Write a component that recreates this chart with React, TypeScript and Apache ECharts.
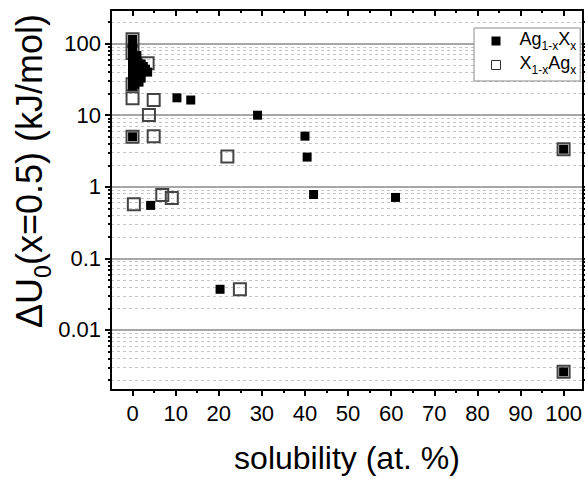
import React, { useEffect, useRef } from 'react';
import * as echarts from 'echarts';

// Ag(1-x)X(x) — filled squares: [solubility (at.%), ΔU0 (kJ/mol)]
const agSeries: [number, number][] = [
  [0, 115], [0, 88], [0, 80], [0, 72], [0, 65], [0, 58], [0, 52], [0, 47], [0, 42], [0, 38],
  [0, 34], [0, 31], [0, 28], [0, 25.5], [0.5, 62], [1, 55], [1.5, 50], [1, 45], [2, 43],
  [3, 44], [3.5, 40], [2.5, 48], [1, 36], [2, 33], [1.5, 29], [0.5, 27], [1, 68], [2, 52],
  [0, 5], [4.2, 0.55], [10.3, 17.5], [13.5, 16.3], [29, 10], [40, 5.1], [40.5, 2.6],
  [42, 0.78], [61, 0.71], [20.3, 0.037], [100, 3.35], [100, 0.0026],
];

// X(1-x)Ag(x) — open squares
const xSeries: [number, number][] = [
  [0, 115], [0, 74], [0, 27], [0, 17.3], [3.8, 10.1], [4.9, 16.3], [4.9, 5.1], [0, 5],
  [3.5, 53], [22, 2.65], [0.3, 0.57], [6.9, 0.77], [9.1, 0.7], [24.9, 0.037],
  [100, 3.35], [100, 0.0026],
];

const xMajorTicks = [0, 10, 20, 30, 40, 50, 60, 70, 80, 90, 100];
const xMinorTicks = [5, 15, 25, 35, 45, 55, 65, 75, 85, 95];
const yMajorTicks = [0.01, 0.1, 1, 10, 100];
const yMinorTicks = [
  0.002, 0.003, 0.004, 0.005, 0.006, 0.007, 0.008, 0.009,
  0.02, 0.03, 0.04, 0.05, 0.06, 0.07, 0.08, 0.09,
  0.2, 0.3, 0.4, 0.5, 0.6, 0.7, 0.8, 0.9,
  2, 3, 4, 5, 6, 7, 8, 9,
  20, 30, 40, 50, 60, 70, 80, 90,
  200,
];

const X_MIN = -5;
const X_MAX = 104.5;
const Y_MIN = 0.00145;
const Y_MAX = 295;

const FONT = "'Liberation Sans', Arial, sans-serif";

export default function App() {
  const ref = useRef<HTMLDivElement>(null);

  useEffect(() => {
    if (!ref.current) return;
    const chart = echarts.init(ref.current, undefined, { renderer: 'svg' });

    const axisLine = { show: true, onZero: false, lineStyle: { color: '#000', width: 2 } };
    const hiddenLine = { show: false, onZero: false };
    const tickStyle = { color: '#000', width: 2 };

    const baseX = {
      type: 'value' as const,
      min: X_MIN,
      max: X_MAX,
      splitLine: { show: false },
    };
    const baseY = {
      type: 'log' as const,
      logBase: 10,
      min: Y_MIN,
      max: Y_MAX,
    };

    const option: any = {
      animation: false,
      backgroundColor: '#fff',
      grid: { left: 111, right: 2, top: 10, bottom: 85, containLabel: false },
      xAxis: [
        {
          ...baseX,
          position: 'bottom',
          axisLine,
          axisTick: { show: true, customValues: xMajorTicks, length: 6, lineStyle: tickStyle },
          axisLabel: {
            show: true,
            customValues: xMajorTicks,
            fontSize: 22,
            fontFamily: FONT,
            color: '#000',
            margin: 12,
          },
          name: 'solubility (at. %)',
          nameLocation: 'middle',
          nameGap: 52,
          nameTextStyle: { fontSize: 32, fontFamily: FONT, color: '#000' },
        },
        {
          ...baseX,
          position: 'bottom',
          axisLine: hiddenLine,
          axisTick: { show: true, customValues: xMinorTicks, length: 3, lineStyle: tickStyle },
          axisLabel: { show: false },
        },
        {
          ...baseX,
          position: 'top',
          axisLine,
          axisTick: { show: true, inside: true, customValues: xMajorTicks, length: 6, lineStyle: tickStyle },
          axisLabel: { show: false },
        },
        {
          ...baseX,
          position: 'top',
          axisLine: hiddenLine,
          axisTick: { show: true, inside: true, customValues: xMinorTicks, length: 3, lineStyle: tickStyle },
          axisLabel: { show: false },
        },
      ],
      yAxis: [
        {
          ...baseY,
          position: 'left',
          axisLine,
          axisTick: { show: true, customValues: yMajorTicks, length: 6, lineStyle: tickStyle },
          axisLabel: {
            show: true,
            customValues: yMajorTicks,
            fontSize: 22,
            fontFamily: FONT,
            color: '#000',
            margin: 10,
            formatter: (v: number) => String(+Number(v).toPrecision(3)),
          },
          splitLine: { show: true, lineStyle: { color: '#8a8a8a', width: 1.5, type: 'solid' } },
        },
        {
          ...baseY,
          position: 'left',
          axisLine: hiddenLine,
          axisTick: { show: true, customValues: yMinorTicks, length: 3, lineStyle: tickStyle },
          axisLabel: { show: false },
          splitLine: { show: true, lineStyle: { color: '#c4c4c4', width: 1, type: [3, 3] } },
        },
        {
          ...baseY,
          position: 'right',
          axisLine,
          axisTick: { show: true, customValues: yMajorTicks, length: 6, lineStyle: tickStyle },
          axisLabel: { show: false },
          splitLine: { show: false },
        },
        {
          ...baseY,
          position: 'right',
          axisLine: hiddenLine,
          axisTick: { show: true, customValues: yMinorTicks, length: 3, lineStyle: tickStyle },
          axisLabel: { show: false },
          splitLine: { show: false },
        },
      ],
      legend: {
        orient: 'vertical',
        left: 474,
        top: 28,
        padding: [2, 4, 5, 17],
        itemGap: 2,
        itemWidth: 9,
        itemHeight: 9,
        borderColor: '#8a8a8a',
        borderWidth: 1,
        backgroundColor: '#fff',
        data: [
          { name: 'Ag1-xXx', icon: 'square', itemStyle: { color: '#000', borderWidth: 0 } },
          { name: 'X1-xAgx', icon: 'square', itemStyle: { color: '#fff', borderColor: '#333', borderWidth: 1 } },
        ],
        formatter: (name: string) =>
          name === 'Ag1-xXx'
            ? '{f|Ag}{s|1-x}{n|X}{s|x}'
            : '{f|X}{s|1-x}{n|Ag}{s|x}',
        textStyle: {
          fontFamily: FONT,
          color: '#000',
          rich: {
            f: { fontSize: 18, fontFamily: FONT, color: '#000', verticalAlign: 'bottom', padding: [0, 0, 4, 14] },
            n: { fontSize: 18, fontFamily: FONT, color: '#000', verticalAlign: 'bottom', padding: [0, 0, 4, 0] },
            s: { fontSize: 12, fontFamily: FONT, color: '#000', verticalAlign: 'bottom' },
          },
        },
      },
      graphic: [
        {
          type: 'text',
          x: 33,
          y: 171,
          rotation: Math.PI / 2,
          style: {
            text: '{n|ΔU}{s|0}{n|(x=0.5) (kJ/mol)}',
            align: 'center',
            verticalAlign: 'middle',
            fill: '#000',
            fontFamily: FONT,
            fontSize: 36,
            rich: {
              n: { fontSize: 36, fontFamily: FONT, fill: '#000', verticalAlign: 'bottom', padding: [0, 0, 7, 0] },
              s: { fontSize: 23, fontFamily: FONT, fill: '#000', verticalAlign: 'bottom' },
            },
          },
        },
      ],
      series: [
        {
          name: 'Ag1-xXx',
          type: 'scatter',
          xAxisIndex: 0,
          yAxisIndex: 0,
          symbol: 'rect',
          symbolSize: 9,
          z: 3,
          itemStyle: { color: '#000', borderWidth: 0, opacity: 1 },
          data: agSeries,
        },
        {
          name: 'X1-xAgx',
          type: 'scatter',
          xAxisIndex: 0,
          yAxisIndex: 0,
          symbol: 'rect',
          symbolSize: 12,
          z: 2,
          itemStyle: { color: 'rgba(255,255,255,0)', borderColor: '#444', borderWidth: 2, opacity: 1 },
          data: xSeries,
        },
      ],
    };

    chart.setOption(option);
    return () => chart.dispose();
  }, []);

  return <div ref={ref} style={{ width: 585, height: 479, position: 'absolute', left: 0, top: 0 }} />;
}
